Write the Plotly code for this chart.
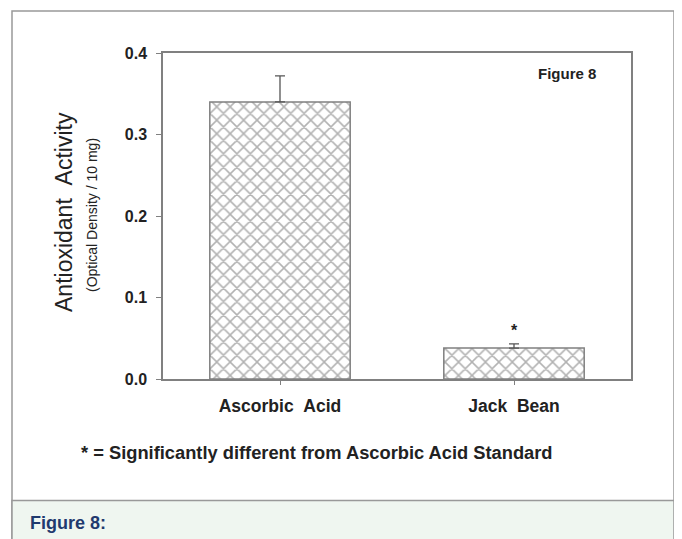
import plotly.graph_objects as go

# ---- data ----
categories = ["Ascorbic Acid", "Jack Bean"]
tick_labels = ["Ascorbic\u00a0\u00a0Acid", "Jack\u00a0\u00a0Bean"]
values = [0.340, 0.038]
errors_up = [0.032, 0.005]
errors_down = [0.0, 0.0]
significant = ["", "*"]
y_ticks = [0.0, 0.1, 0.2, 0.3, 0.4]

OFF = 8  # page body margin of the html page
W, H = 682 - OFF, 539 - OFF
# plot area in window pixels
WL, WR, WT, WB = 163, 631, 53, 379
L, R, T, B = WL - OFF, WR - OFF, WT - OFF, WB - OFF


def px(x):  # window pixel -> paper
    return (x - WL) / (WR - WL)


def py(y):
    return (WB - y) / (WB - WT)


FONT = "Liberation Sans, Arial, sans-serif"
GRAY = "#808080"

fig = go.Figure()
fig.add_trace(go.Bar(
    x=categories,
    y=values,
    width=0.6,
    marker=dict(
        color="white",
        line=dict(color=GRAY, width=1.5),
        pattern=dict(shape="x", size=9.5, solidity=0.3, fgcolor="#666666", bgcolor="white"),
    ),
    error_y=dict(type="data", symmetric=False, array=errors_up, arrayminus=errors_down,
                 color="#555555", thickness=1.3, width=5),
    showlegend=False,
))

annotations = []
for c, v, e, s in zip(categories, values, errors_up, significant):
    if s:
        annotations.append(dict(x=c, y=v + e, xref="x", yref="y", text=s, showarrow=False,
                                yanchor="bottom", yshift=3,
                                font=dict(family=FONT, size=16, color="#222", weight="bold")))

annotations += [
    dict(x=px(598), y=py(74), xref="paper", yref="paper", text="Figure 8", showarrow=False,
         xanchor="right", yanchor="middle",
         font=dict(family=FONT, size=15, color="#222", weight="bold")),
    dict(x=px(64), y=py(212), xref="paper", yref="paper", text="Antioxidant\u00a0\u00a0Activity",
         showarrow=False, textangle=-90, xanchor="center", yanchor="middle",
         font=dict(family=FONT, size=23, color="#222")),
    dict(x=px(92), y=py(215), xref="paper", yref="paper", text="(Optical Density / 10 mg)",
         showarrow=False, textangle=-90, xanchor="center", yanchor="middle",
         font=dict(family=FONT, size=14, color="#222")),
    dict(x=px(317), y=py(452), xref="paper", yref="paper",
         text="* = Significantly different from Ascorbic Acid Standard",
         showarrow=False, xanchor="center", yanchor="middle",
         font=dict(family=FONT, size=18.3, color="#222", weight="bold")),
    dict(x=px(28), y=py(523), xref="paper", yref="paper", text="Figure 8:",
         showarrow=False, xanchor="left", yanchor="middle",
         font=dict(family=FONT, size=18, color="#1f3a6e", weight="bold")),
]

shapes = [
    # outer border
    dict(type="rect", xref="paper", yref="paper", x0=px(12), x1=px(674), y0=py(11), y1=py(560),
         line=dict(color="#999999", width=1.5), fillcolor="rgba(0,0,0,0)", layer="below"),
    # caption band
    dict(type="rect", xref="paper", yref="paper", x0=px(12), x1=px(674), y0=py(500.5), y1=py(560),
         line=dict(color="#999999", width=1.5), fillcolor="#eff6f0", layer="below"),
]

fig.update_layout(
    width=W, height=H,
    margin=dict(l=L, r=W - R, t=T, b=H - B, pad=0),
    paper_bgcolor="white", plot_bgcolor="white",
    annotations=annotations, shapes=shapes,
    xaxis=dict(
        range=[-0.5, 1.5], tickmode="array", tickvals=categories, ticktext=tick_labels,
        showline=True, mirror=True, linecolor=GRAY, linewidth=1.5,
        ticks="outside", ticklen=4, tickcolor=GRAY, tickwidth=1,
        showgrid=False, zeroline=False, ticklabelstandoff=6,
        tickfont=dict(family=FONT, size=17.5, color="#222", weight="bold"),
    ),
    yaxis=dict(
        range=[0, 0.4], tickvals=y_ticks, tickformat=".1f",
        showline=True, mirror=True, linecolor=GRAY, linewidth=1.5,
        ticks="outside", ticklen=5, tickcolor=GRAY, tickwidth=1,
        showgrid=False, zeroline=False, ticklabelstandoff=6,
        tickfont=dict(family=FONT, size=16, color="#222", weight="bold"),
    ),
)

fig.write_html("out.html")
